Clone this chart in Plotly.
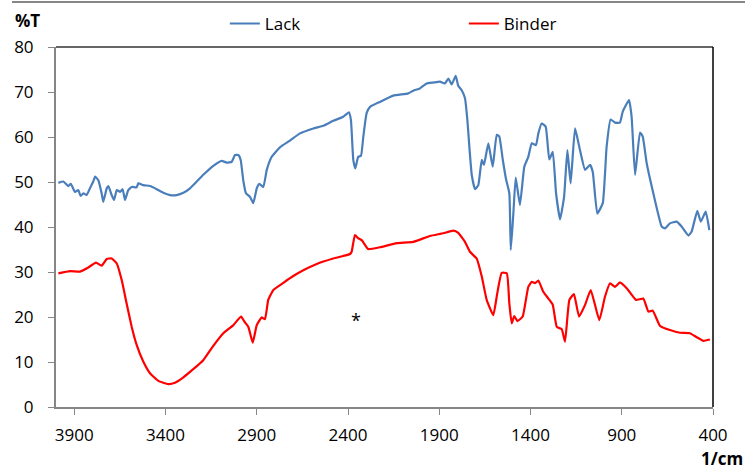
import plotly.graph_objects as go

# Lack (blue) spectrum: wavenumber (1/cm), %T
lack_x = [3987, 3960, 3933, 3919, 3896, 3878, 3865, 3850, 3832, 3814, 3796, 3786, 3768, 3750, 3741,
          3722, 3713, 3695, 3682, 3667, 3649, 3635, 3622, 3604, 3585, 3558, 3549, 3522, 3485, 3448,
          3412, 3375, 3339, 3302, 3266, 3229, 3193, 3138, 3092, 3065, 3037, 3019, 3001, 2988, 2974,
          2959, 2937, 2919, 2900, 2886, 2864, 2845, 2818, 2773, 2718, 2663, 2590, 2535, 2481, 2426,
          2395, 2384, 2371, 2360, 2344, 2329, 2316, 2298, 2279, 2225, 2152, 2070, 2042, 2006, 1969,
          1933, 1896, 1869, 1850, 1832, 1810, 1796, 1777, 1759, 1746, 1735, 1722, 1704, 1686, 1667,
          1655, 1631, 1607, 1585, 1571, 1552, 1534, 1516, 1508, 1494, 1481, 1458, 1434, 1412, 1393,
          1370, 1357, 1339, 1317, 1297, 1278, 1260, 1238, 1216, 1198, 1180, 1156, 1129, 1101, 1074,
          1059, 1034, 1004, 983, 961, 937, 910, 895, 860, 846, 827, 800, 785, 763, 727,
          681, 663, 636, 599, 572, 535, 517, 486, 467, 440, 420]
lack_y = [49.8, 50.1, 49.1, 49.6, 47.8, 48.2, 46.9, 47.5, 47.1, 48.6, 50.1, 51.2, 50.4, 47.5, 45.6,
          48.6, 49.1, 47.1, 46.0, 48.2, 47.8, 48.4, 46.0, 48.2, 48.9, 48.8, 49.7, 49.3, 49.1, 48.4,
          47.6, 47.1, 47.1, 47.6, 48.6, 50.1, 51.6, 53.6, 54.7, 54.3, 54.5, 56.0, 56.0, 54.9, 50.4,
          47.5, 46.7, 45.3, 48.6, 49.6, 48.9, 52.7, 55.6, 57.7, 59.2, 60.8, 61.9, 62.5, 63.6, 64.5,
          65.5, 63.8, 54.9, 53.0, 55.6, 55.8, 60.1, 65.3, 66.7, 67.8, 69.2, 69.7, 70.3, 70.8, 71.9,
          72.1, 72.3, 71.9, 73.0, 71.7, 73.6, 71.4, 70.4, 68.6, 63.8, 57.8, 51.6, 48.4, 49.3, 54.9,
          53.8, 58.6, 53.4, 60.5, 60.1, 55.0, 50.6, 47.5, 34.9, 43.0, 51.0, 44.9, 53.4, 55.6, 58.6,
          58.2, 60.8, 63.0, 62.3, 55.0, 56.7, 47.5, 41.7, 46.7, 57.1, 49.7, 61.9, 57.1, 52.7, 53.8,
          52.3, 43.0, 45.3, 57.8, 63.9, 63.2, 63.2, 65.6, 68.2, 64.5, 51.6, 61.0, 60.1, 54.1, 47.5,
          40.1, 39.7, 40.8, 41.2, 40.1, 38.1, 39.0, 43.6, 41.2, 43.4, 39.3]

# Binder (red) spectrum
binder_x = [3987, 3923, 3868, 3823, 3781, 3750, 3722, 3695, 3667, 3640, 3613, 3585, 3558, 3522, 3485,
            3439, 3385, 3348, 3302, 3248, 3193, 3138, 3083, 3028, 2986, 2968, 2946, 2922, 2900, 2873,
            2855, 2837, 2809, 2754, 2700, 2645, 2571, 2481, 2389, 2380, 2362, 2344, 2325, 2289, 2225,
            2133, 2042, 1951, 1878, 1823, 1796, 1759, 1732, 1695, 1667, 1640, 1604, 1582, 1558, 1530,
            1516, 1503, 1489, 1472, 1443, 1412, 1393, 1375, 1357, 1330, 1302, 1278, 1256, 1229, 1211,
            1187, 1162, 1134, 1101, 1070, 1023, 992, 964, 937, 910, 873, 822, 782, 754, 730,
            690, 636, 581, 526, 489, 453, 417]
binder_y = [29.7, 30.2, 30.1, 31.0, 32.1, 31.4, 32.9, 33.0, 31.9, 28.2, 23.0, 17.8, 13.8, 10.1, 7.5,
            5.8, 5.1, 5.4, 6.6, 8.4, 10.4, 13.6, 16.4, 18.2, 20.1, 19.0, 17.8, 14.3, 18.2, 19.9,
            19.5, 23.8, 26.0, 27.6, 29.1, 30.4, 31.8, 33.0, 34.0, 34.5, 38.2, 37.5, 37.1, 35.1, 35.5,
            36.4, 36.7, 38.0, 38.6, 39.2, 38.7, 36.7, 34.5, 33.0, 29.0, 23.8, 20.4, 25.3, 29.8, 29.7,
            23.0, 18.6, 20.2, 19.1, 20.1, 26.7, 27.8, 27.5, 28.1, 25.6, 24.1, 22.7, 17.8, 17.3, 14.5,
            23.8, 25.1, 20.1, 22.7, 26.0, 19.3, 24.5, 27.5, 26.7, 27.7, 26.4, 23.8, 24.1, 21.2, 21.4,
            18.0, 17.1, 16.5, 16.4, 15.5, 14.7, 15.0]

x_ticks = [3900, 3400, 2900, 2400, 1900, 1400, 900, 400]
y_ticks = [0, 10, 20, 30, 40, 50, 60, 70, 80]

FONT = "Open Sans"
GRAY = "#868686"

fig = go.Figure()
fig.add_trace(go.Scatter(x=lack_x, y=lack_y, mode="lines", name="Lack",
                         line=dict(color="#4A7EBB", width=2.2, shape="spline", smoothing=0.4)))
fig.add_trace(go.Scatter(x=binder_x, y=binder_y, mode="lines", name="Binder",
                         line=dict(color="#FF0000", width=2.2, shape="spline", smoothing=0.4)))

fig.update_layout(
    width=745, height=470,
    margin=dict(l=56, r=32, t=47, b=63, autoexpand=False),
    paper_bgcolor="white", plot_bgcolor="white",
    font=dict(family=FONT, size=17, color="black"),
    showlegend=True,
    legend=dict(orientation="h", x=0.257, xanchor="left", y=1.064, yanchor="middle",
                font=dict(size=17), entrywidth=194, entrywidthmode="pixels",
                bgcolor="rgba(0,0,0,0)"),
    xaxis=dict(range=[4000, 400], tickvals=x_ticks, ticktext=[str(v) for v in x_ticks],
               ticks="outside", ticklen=6, tickcolor=GRAY, tickwidth=1, ticklabelstandoff=6,
               showline=True, linecolor=GRAY, linewidth=2, showgrid=False, zeroline=False),
    yaxis=dict(range=[0, 80], tickvals=y_ticks, ticks="outside", ticklen=6, tickcolor=GRAY,
               tickwidth=1, ticklabelstandoff=11, showline=True, linecolor=GRAY, linewidth=2,
               showgrid=False, zeroline=False),
    shapes=[
        dict(type="line", xref="paper", yref="paper", x0=0, x1=1, y0=1, y1=1,
             line=dict(color="#333333", width=1.5)),
        dict(type="line", xref="paper", yref="paper", x0=1, x1=1, y0=0, y1=1,
             line=dict(color="#000000", width=1.5)),
        dict(type="line", xref="paper", yref="paper", x0=-0.067, x1=1.05, y0=1.125, y1=1.125,
             line=dict(color=GRAY, width=2)),
    ],
    annotations=[
        dict(text="<b>%T</b>", xref="paper", yref="paper", x=-0.044, y=1.075,
             xanchor="center", yanchor="middle", showarrow=False, font=dict(size=17)),
        dict(text="<b>1/cm</b>", xref="paper", yref="paper", x=1.0137, y=-0.142,
             xanchor="center", yanchor="middle", showarrow=False, font=dict(size=17)),
        dict(text="*", x=2356, y=19.3, xref="x", yref="y", showarrow=False,
             font=dict(size=18)),
    ],
)

fig.write_html("out.html")
